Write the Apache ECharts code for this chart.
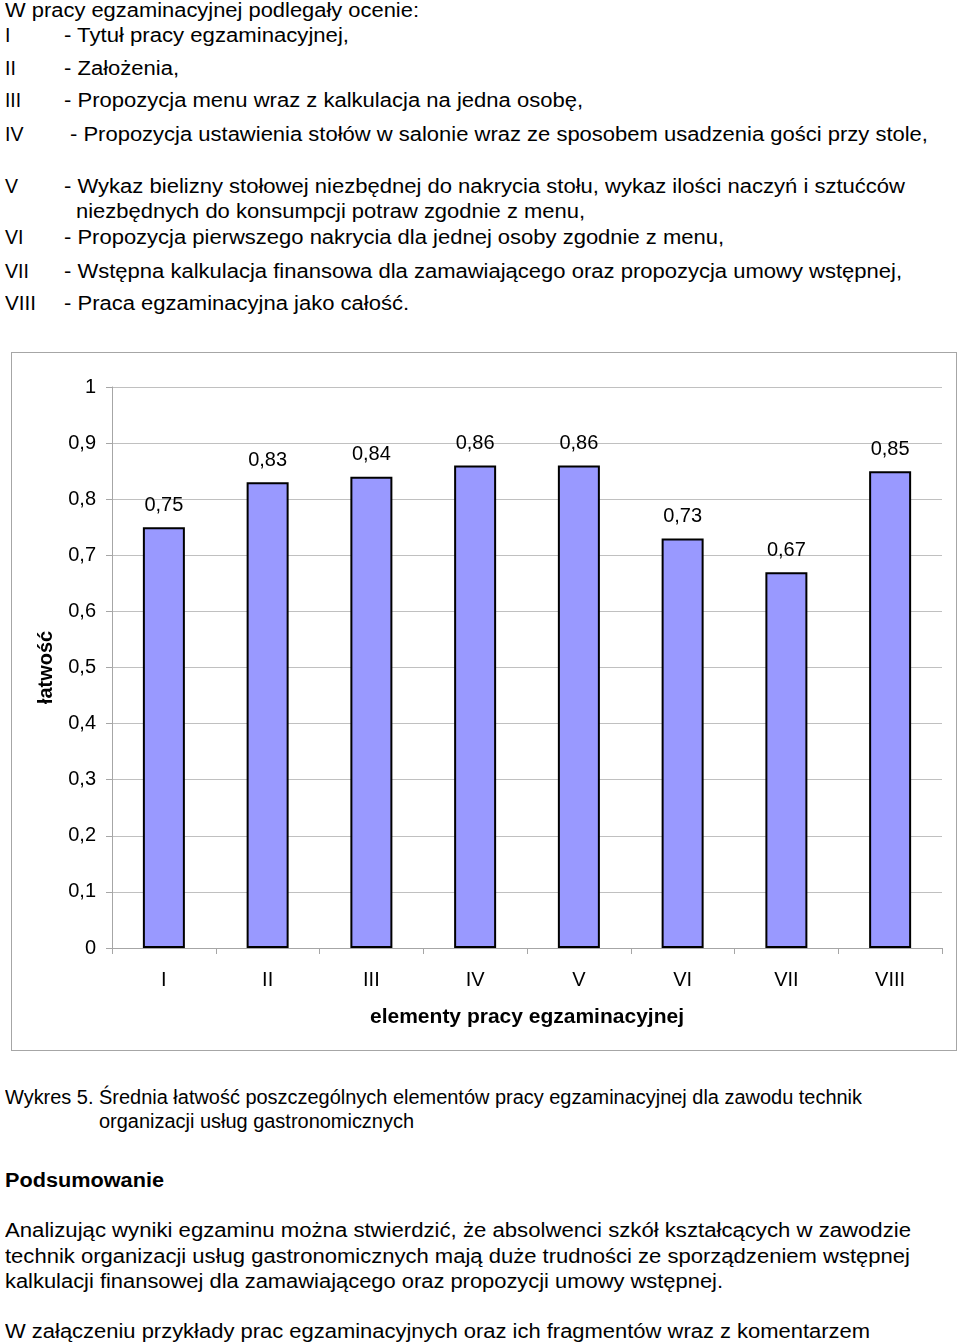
<!DOCTYPE html>
<html><head><meta charset="utf-8">
<script src="https://cdn.jsdelivr.net/npm/echarts@6/dist/echarts.min.js"></script>
<style>
html,body{margin:0;padding:0;background:#fff;}
body{width:960px;height:1344px;position:relative;overflow:hidden;font-family:"Liberation Sans",Arial,sans-serif;color:#000;}
.t{position:absolute;font-size:19.5px;line-height:24px;white-space:nowrap;transform-origin:0 50%;}
#chart{position:absolute;left:11px;top:352px;width:946px;height:699px;box-sizing:border-box;border:1px solid #a6a6a6;}
</style></head><body>
<div id="texts"></div>
<div id="chart"></div>
<script>
var categories = ['I','II','III','IV','V','VI','VII','VIII'];
var values = [0.75, 0.83, 0.84, 0.86, 0.86, 0.73, 0.67, 0.85];
var yTicks = {min: 0, max: 1, interval: 0.1};
var yAxisName = 'łatwość';
var xAxisName = 'elementy pracy egzaminacyjnej';

// [left, centerY, text, rightEdge, bold]
var lines = [
  [5, 10, 'W pracy egzaminacyjnej podlegały ocenie:', 419],
  [5, 35, 'I'], [64, 35, '- Tytuł pracy egzaminacyjnej,', 349],
  [5, 68, 'II'], [64, 68, '- Założenia,', 179],
  [5, 100, 'III', 21], [64, 100, '- Propozycja menu wraz z kalkulacja na jedna osobę,', 583],
  [5, 134, 'IV'], [70, 134, '- Propozycja ustawienia stołów w salonie wraz ze sposobem usadzenia gości przy stole,', 928],
  [5, 186, 'V'], [64, 186, '- Wykaz bielizny stołowej niezbędnej do nakrycia stołu, wykaz ilości naczyń i sztućców', 905],
  [76, 211, 'niezbędnych do konsumpcji potraw zgodnie z menu,', 585],
  [5, 237, 'VI'], [64, 237, '- Propozycja pierwszego nakrycia dla jednej osoby zgodnie z menu,', 724],
  [5, 271, 'VII'], [64, 271, '- Wstępna kalkulacja finansowa dla zamawiającego oraz propozycja umowy wstępnej,', 902],
  [5, 303, 'VIII', 36], [64, 303, '- Praca egzaminacyjna jako całość.', 409],
  [5, 1097, 'Wykres 5. Średnia łatwość poszczególnych elementów pracy egzaminacyjnej dla zawodu technik', 862],
  [99, 1121, 'organizacji usług gastronomicznych', 414],
  [5, 1180, 'Podsumowanie', 164, true],
  [5, 1230, 'Analizując wyniki egzaminu można stwierdzić, że absolwenci szkół kształcących w zawodzie', 911],
  [5, 1256, 'technik organizacji usług gastronomicznych mają duże trudności ze sporządzeniem wstępnej', 910],
  [5, 1281, 'kalkulacji finansowej dla zamawiającego oraz propozycji umowy wstępnej.', 723],
  [5, 1331, 'W załączeniu przykłady prac egzaminacyjnych oraz ich fragmentów wraz z komentarzem', 870]
];
var tc = document.getElementById('texts');
lines.forEach(function(l){
  var d = document.createElement('div');
  d.className = 't';
  d.style.left = l[0] + 'px';
  d.style.top = (l[1] - 12) + 'px';
  if (l[4]) d.style.fontWeight = 'bold';
  d.textContent = l[2];
  tc.appendChild(d);
  if (l[3]) {
    var w = d.getBoundingClientRect().width;
    var s = (l[3] - l[0]) / w;
    d.style.transform = 'scaleX(' + s.toFixed(4) + ')';
  }
});

function fmt(v){ return String(Math.round(v*100)/100).replace('.', ','); }

var chart = echarts.init(document.getElementById('chart'), null, {renderer:'canvas'});
chart.setOption({
  animation: false,
  textStyle: {fontFamily: '"Liberation Sans", Arial, sans-serif'},
  grid: {left: 100, top: 34, width: 830, height: 561, containLabel: false},
  xAxis: {
    type: 'category', data: categories,
    axisLine: {show: true, lineStyle: {color: '#a6a6a6', width: 1}},
    axisTick: {show: true, alignWithLabel: false, length: 6, lineStyle: {color: '#a6a6a6'}},
    axisLabel: {color: '#000', fontSize: 20, margin: 22},
    name: xAxisName, nameLocation: 'middle', nameGap: 59,
    nameTextStyle: {color: '#000', fontSize: 21, fontWeight: 'bold'}
  },
  yAxis: {
    type: 'value', min: yTicks.min, max: yTicks.max, interval: yTicks.interval,
    axisLine: {show: true, lineStyle: {color: '#a6a6a6', width: 1}},
    axisTick: {show: true, length: 6, lineStyle: {color: '#a6a6a6'}},
    axisLabel: {color: '#000', fontSize: 20, margin: 16, formatter: function(v){ return fmt(v); }},
    splitLine: {show: true, lineStyle: {color: '#c0c0c0', width: 1}},
    name: yAxisName, nameLocation: 'middle', nameGap: 56, nameRotate: 90,
    nameTextStyle: {color: '#000', fontSize: 20, fontWeight: 'bold'}
  },
  series: [{
    type: 'bar', data: values, barWidth: 42,
    itemStyle: {color: '#9999ff', borderColor: '#000', borderWidth: 2},
    label: {show: true, position: 'top', distance: 12, color: '#000', fontSize: 20,
      formatter: function(p){ return fmt(p.value); }}
  }]
});
</script>
</body></html>
